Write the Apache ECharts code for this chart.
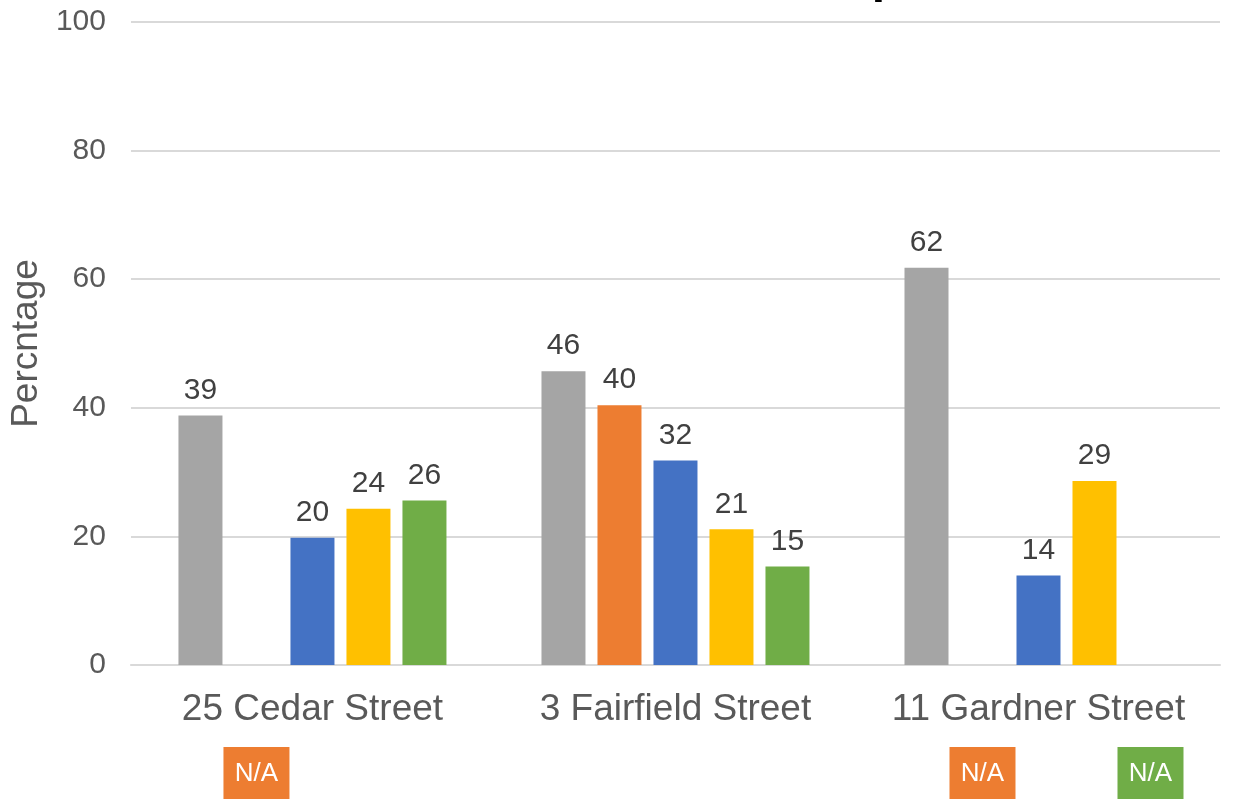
<!DOCTYPE html>
<html>
<head>
<meta charset="utf-8">
<script src="https://cdn.jsdelivr.net/npm/echarts@6/dist/echarts.min.js"></script>
<style>
  html, body { margin: 0; padding: 0; background: #ffffff; }
  #chart { width: 1237px; height: 799px; }
</style>
</head>
<body>
<div id="chart"></div>
<script>
// Street addresses along the category axis
const categories = ['25 Cedar Street', '3 Fairfield Street', '11 Gardner Street'];

// Percentages for each series (null = no data, shown as N/A below the axis)
const seriesNames = ['Series 1', 'Series 2', 'Series 3', 'Series 4', 'Series 5'];
const series1 = [38.8, 45.7, 61.8];
const series2 = [null, 40.4, null];
const series3 = [19.8, 31.8, 13.9];
const series4 = [24.3, 21.1, 28.6];
const series5 = [25.6, 15.3, null];
const seriesColors = ['#A5A5A5', '#ED7D31', '#4472C4', '#FFC000', '#70AD47'];

// Y axis ticks
const yTicks = [0, 20, 40, 60, 80, 100];
const yAxisTitle = 'Percntage';
const chartTitle = 'Comparison';

// Slots with no value, marked with an N/A badge under the axis
const naNotes = [
  { category: '25 Cedar Street', series: 1 },
  { category: '11 Gardner Street', series: 1 },
  { category: '11 Gardner Street', series: 4 }
];

const seriesData = [series1, series2, series3, series4, series5];
const BAR_W = 44;
const BAR_STRIDE = 56;
const FONT = 'Liberation Sans, Arial, Helvetica, sans-serif';

const chart = echarts.init(document.getElementById('chart'), null, { renderer: 'canvas' });

chart.setOption({
  backgroundColor: '#ffffff',
  animation: false,
  grid: { left: 127, right: 17, top: 22, bottom: 134, containLabel: false },
  xAxis: {
    type: 'category',
    data: categories,
    axisLine: { show: true, lineStyle: { color: '#D9D9D9', width: 2 } },
    axisTick: { show: false },
    axisLabel: { color: '#595959', fontSize: 37, fontFamily: FONT, margin: 26, interval: 0 }
  },
  yAxis: {
    type: 'value',
    min: yTicks[0],
    max: yTicks[yTicks.length - 1],
    interval: yTicks[1] - yTicks[0],
    name: yAxisTitle,
    nameLocation: 'middle',
    nameGap: 84,
    nameTextStyle: { color: '#595959', fontSize: 37, fontFamily: FONT },
    axisLine: { show: false },
    axisTick: { show: false },
    axisLabel: { color: '#595959', fontSize: 30, fontFamily: FONT, margin: 25 },
    splitLine: { lineStyle: { color: '#D9D9D9', width: 2 } }
  },
  series: seriesData.map((d, i) => ({
    name: seriesNames[i],
    type: 'bar',
    data: d.map(v => (v === null ? '-' : v)),
    barWidth: BAR_W,
    barGap: ((BAR_STRIDE - BAR_W) / BAR_W * 100).toFixed(2) + '%',
    itemStyle: { color: seriesColors[i] },
    label: {
      show: true,
      position: 'top',
      distance: 10,
      color: '#404040',
      fontSize: 30,
      fontFamily: FONT,
      formatter: p => Math.round(p.value)
    }
  }))
});

// Title sits mostly above the canvas; N/A badges sit under the empty slots
function placeExtras() {
  const elements = [];
  const mid = Math.floor(seriesData.length / 2);
  naNotes.forEach(n => {
    const cx = chart.convertToPixel({ xAxisIndex: 0 }, n.category) + (n.series - mid) * BAR_STRIDE;
    elements.push({
      type: 'group',
      x: cx - 33,
      y: 747,
      children: [
        { type: 'rect', shape: { x: 0, y: 0, width: 66, height: 54 }, style: { fill: seriesColors[n.series] } },
        { type: 'text', x: 33, y: 27, style: { text: 'N/A', fill: '#ffffff', font: '26px ' + FONT, textAlign: 'center', textVerticalAlign: 'middle' } }
      ]
    });
  });
  elements.push({
    type: 'text',
    x: 765,
    y: 3,
    style: { text: chartTitle, fill: '#000000', font: 'bold 48px ' + FONT, textAlign: 'left', textVerticalAlign: 'bottom' }
  });
  chart.setOption({ graphic: { elements } });
}
placeExtras();
</script>
</body>
</html>
